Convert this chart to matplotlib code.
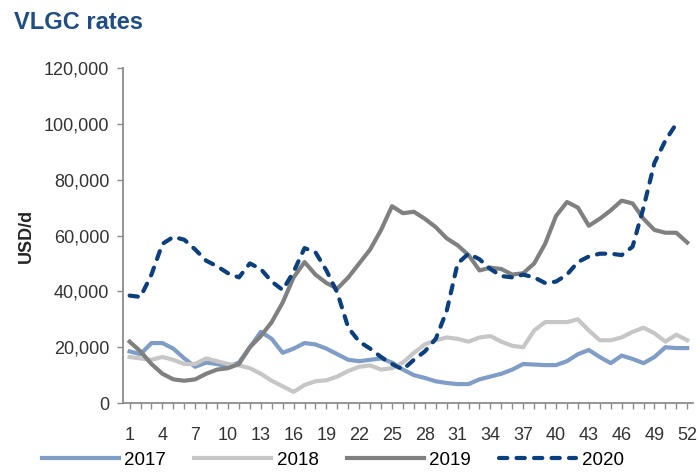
import matplotlib
matplotlib.use("Agg")
import matplotlib.pyplot as plt
import numpy as np

# weekly VLGC rates, USD/d
weeks = list(range(1, 53))
rates_2017 = [18500, 17500, 21500, 21500, 19500, 16000, 13000, 14500, 14000, 13000,
              14500, 20000, 25500, 23000, 18000, 19500, 21500, 21000, 19500, 17500,
              15500, 15000, 15500, 16000, 14500, 12000, 10000, 9000, 7800, 7200,
              6800, 6800, 8500, 9500, 10500, 12000, 14000, 13800, 13600, 13600,
              15000, 17500, 19000, 16500, 14300, 17000, 15800, 14300, 16500, 20000,
              19700, 19700]
rates_2018 = [16500, 16000, 15500, 16500, 15500, 14000, 14000, 16000, 15000, 14000,
              13500, 12500, 10500, 8000, 6000, 4000, 6500, 7800, 8200, 9500,
              11500, 13000, 13500, 12000, 12500, 14500, 18000, 21000, 22500, 23500,
              23000, 22000, 23500, 24000, 22000, 20500, 20000, 26000, 29000, 29000,
              29000, 30000, 26000, 22500, 22500, 23500, 25500, 27000, 25000, 22000,
              24500, 22500]
rates_2019 = [22000, 18500, 14000, 10500, 8500, 8000, 8500, 10500, 12000, 12500,
              14000, 20000, 24000, 29000, 36000, 45000, 50500, 46000, 43000, 41000,
              45000, 50000, 55000, 62000, 70500, 68000, 68500, 66000, 63000, 59000,
              56500, 53000, 47500, 48500, 48000, 46000, 46500, 50000, 57000, 67000,
              72000, 70000, 63500, 66000, 69000, 72500, 71500, 66000, 62000, 61000,
              61000, 57500]
rates_2020 = [38500, 38000, 46000, 57000, 59500, 58500, 55000, 51000, 49000, 46500,
              45000, 50000, 48000, 43500, 40500, 47000, 55500, 54000, 47500, 39500,
              27000, 22000, 19500, 16500, 14000, 12000, 15500, 18500, 23000, 33000,
              50000, 53500, 51500, 48000, 45500, 45000, 46000, 45000, 43000, 43500,
              46000, 50500, 52500, 53500, 53500, 53000, 56000, 70000, 86000, 94000,
              100000]

plt.rcParams['font.family'] = ['Liberation Sans', 'DejaVu Sans']

fig = plt.figure(figsize=(6.99, 4.72), dpi=100)
ax = fig.add_axes([0.176, 0.146, 0.815, 0.71])

ax.plot(weeks, rates_2017, color='#7f9dc6', lw=3.0, label='2017',
        solid_joinstyle='round')
ax.plot(weeks, rates_2018, color='#c6c6c6', lw=3.0, label='2018',
        solid_joinstyle='round')
ax.plot(weeks, rates_2019, color='#808080', lw=3.0, label='2019',
        solid_joinstyle='round')
ax.plot(weeks[:len(rates_2020)], rates_2020, color='#0c3f7d', lw=3.0,
        ls=(0, (2.0, 2.2)), dash_capstyle='round', dash_joinstyle='round',
        label='2020')

ax.set_xlim(0.4, 52.5)
ax.set_ylim(0, 120000)
ax.set_xticks(weeks, minor=True)
ax.set_xticks(weeks[::3])
ax.set_yticks(range(0, 120001, 20000))
ax.yaxis.set_major_formatter(matplotlib.ticker.FuncFormatter(lambda v, p: f'{int(v):,}'))

for s in ['top', 'right']:
    ax.spines[s].set_visible(False)
for s in ['left', 'bottom']:
    ax.spines[s].set_color('#8c8c8c')
    ax.spines[s].set_linewidth(1.3)

ax.tick_params(axis='both', which='both', color='#8c8c8c', width=1.0,
               labelsize=13, labelcolor='#333333')
ax.tick_params(axis='y', length=4, pad=6)
ax.tick_params(axis='x', which='major', length=4, pad=13)
ax.tick_params(axis='x', which='minor', length=4)

ax.set_ylabel('USD/d', fontsize=13, fontweight='bold', color='#262626', labelpad=6)

fig.text(0.02, 0.953, 'VLGC rates', fontsize=17, fontweight='bold',
         color='#1f4e84', va='center', ha='left')

fig.legend(loc='center left', bbox_to_anchor=(0.060, 0.025), ncol=4, frameon=False,
           fontsize=13.5, handlelength=4.1, columnspacing=1.5, handletextpad=0.3,
           borderpad=0, borderaxespad=0)

fig.savefig('out.png', dpi=100)
